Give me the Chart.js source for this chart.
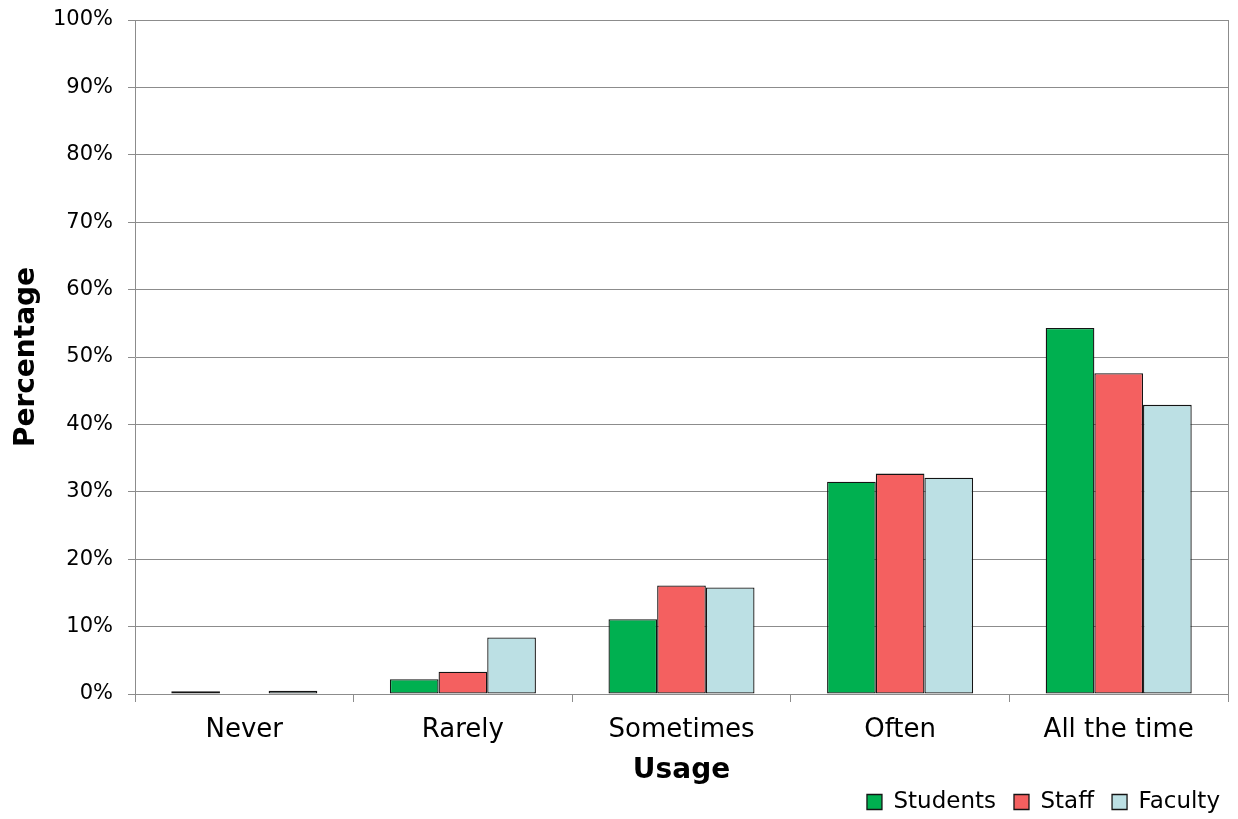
<!DOCTYPE html>
<html>
<head>
<meta charset="utf-8">
<script src="https://cdn.jsdelivr.net/npm/chart.js@4/dist/chart.umd.min.js"></script>
<style>
  html, body { margin: 0; padding: 0; background: #fff; }
  #wrap { width: 1238px; height: 819px; }
</style>
</head>
<body>
<div id="wrap"><canvas id="c" width="1238" height="819"></canvas></div>
<script>
// Usage categories and the share of each group (percent)
const categories = ['Never', 'Rarely', 'Sometimes', 'Often', 'All the time'];
const students = [0.4, 2.2, 11.1, 31.5, 54.3];
const staff = [0, 3.3, 16.1, 32.7, 47.6];
const faculty = [0.5, 8.4, 15.8, 32.1, 42.9];
const yTickStep = 10;
const yMax = 100;

const FONT = "'DejaVu Sans', Verdana, sans-serif";
const GRID = '#8c8c8c';
const EDGE = '#141414';

Chart.defaults.font.family = FONT;
Chart.defaults.color = '#000';

// vertical axes keep a fixed width and do not reserve extra room for label overflow
function fixVertical(width) {
  return (scale) => {
    scale.width = width;
    scale.paddingTop = 0;
    scale.paddingBottom = 0;
  };
}

new Chart(document.getElementById('c'), {
  type: 'bar',
  data: {
    labels: categories,
    datasets: [
      { label: 'Students', data: students, backgroundColor: '#00B050', borderColor: EDGE, borderWidth: 1.3 },
      { label: 'Staff', data: staff, backgroundColor: '#F46060', borderColor: EDGE, borderWidth: 1.3 },
      { label: 'Faculty', data: faculty, backgroundColor: '#BCE0E4', borderColor: EDGE, borderWidth: 1.3 }
    ]
  },
  options: {
    responsive: false,
    animation: false,
    devicePixelRatio: 1,
    layout: { padding: { top: 20, left: 0, right: 0, bottom: -4.5 } },
    datasets: { bar: { categoryPercentage: 0.668, barPercentage: 1.0, borderSkipped: false } },
    plugins: {
      legend: {
        position: 'bottom',
        align: 'end',
        labels: {
          boxWidth: 15,
          boxHeight: 15,
          padding: 18,
          font: { size: 23 },
          color: '#000'
        }
      },
      tooltip: { enabled: false }
    },
    scales: {
      x: {
        grid: {
          drawOnChartArea: false,
          drawTicks: true,
          tickLength: 8,
          color: GRID,
          tickColor: GRID,
          offset: true
        },
        border: { display: true, color: GRID, width: 1 },
        ticks: { font: { size: 26 }, padding: 13, color: '#000', maxRotation: 0 },
        title: {
          display: true,
          text: 'Usage',
          font: { size: 28, weight: 'bold' },
          color: '#000',
          padding: { top: 0, bottom: -15.5 }
        },
        afterFit: (scale) => { scale.height = 78.5; }
      },
      y: {
        min: 0,
        max: yMax,
        grid: { color: GRID, tickColor: GRID, tickLength: 7, lineWidth: 1 },
        border: { display: true, color: GRID, width: 1 },
        ticks: {
          stepSize: yTickStep,
          font: { size: 21 },
          padding: 15,
          color: '#000',
          callback: (v) => v + '%'
        },
        title: {
          display: true,
          text: 'Percentage',
          font: { size: 28, weight: 'bold' },
          color: '#000',
          padding: { top: 10, bottom: 0 }
        },
        afterFit: fixVertical(135)
      },
      yRight: {
        position: 'right',
        min: 0,
        max: yMax,
        grid: { drawOnChartArea: false, drawTicks: false },
        border: { display: true, color: GRID, width: 1 },
        ticks: { display: false },
        afterFit: fixVertical(10)
      }
    }
  }
});
</script>
</body>
</html>
